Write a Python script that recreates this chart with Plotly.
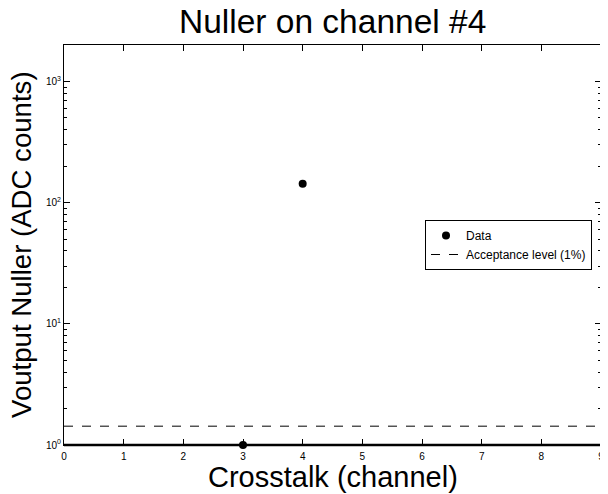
import plotly.graph_objects as go

# Data
channel = [3, 4]
voutput = [1, 143]
acceptance_x = [0, 9]
acceptance_level = [1.43, 1.43]

y_major = [1, 10, 100, 1000]
y_major_text = ["10<sup>0</sup>", "10<sup>1</sup>", "10<sup>2</sup>", "10<sup>3</sup>"]
y_minor = [m * d for d in (1, 10, 100, 1000) for m in range(2, 10) if m * d <= 2000]
x_ticks = list(range(0, 10))

FONT = "Liberation Sans, Arial, Helvetica, sans-serif"
OFF = 8  # page body margin
W, H = 608 - OFF, 494 - OFF
L, R, T, B = 64 - OFF, 7, 45 - OFF, 49
PW, PH = W - L - R, H - T - B
PTOP, PBOT, PLEFT = 45, 445, 64  # plot area in page pixels

fig = go.Figure()
fig.add_trace(go.Scatter(
    x=channel, y=voutput, mode="markers", name="Data",
    marker=dict(color="black", size=8, symbol="circle"),
    cliponaxis=False,
))
fig.add_trace(go.Scatter(
    x=acceptance_x, y=acceptance_level, mode="lines", name="Acceptance level (1%)",
    line=dict(color="black", width=1, dash="dash"),
))

fig.update_layout(
    width=W, height=H,
    margin=dict(l=L, r=R, t=T, b=B, autoexpand=False),
    paper_bgcolor="white", plot_bgcolor="white",
    font=dict(family=FONT, color="black"),
    showlegend=True,
    legend=dict(x=1 - 9 / PW, xanchor="right", y=0.5, yanchor="middle",
                bgcolor="white", bordercolor="black", borderwidth=1,
                font=dict(size=12, family=FONT),
                tracegroupgap=0, itemwidth=30),
    annotations=[
        dict(text="Nuller on channel #4", xref="paper", yref="paper",
             x=0.5, y=1 + (PTOP - 22) / PH, xanchor="center", yanchor="middle",
             showarrow=False, font=dict(size=33.5, family=FONT)),
        dict(text="Crosstalk (channel)", xref="paper", yref="paper",
             x=0.5, y=-(477 - PBOT) / PH, xanchor="center", yanchor="middle",
             showarrow=False, font=dict(size=29, family=FONT)),
        dict(text="Voutput Nuller (ADC counts)", xref="paper", yref="paper",
             x=-(PLEFT - 21) / PW, y=0.5, xanchor="center", yanchor="middle", textangle=-90,
             showarrow=False, font=dict(size=27.6, family=FONT)),
    ],
    shapes=[
        dict(type="line", xref="paper", yref="paper", x0=0, x1=1, y0=0, y1=0,
             line=dict(color="black", width=2.5)),
    ],
)

fig.update_xaxes(
    range=[0, 9], tickvals=x_ticks, ticktext=[str(v) for v in x_ticks],
    ticks="inside", ticklen=6, tickcolor="black", tickwidth=1,
    showline=True, linecolor="black", linewidth=1, mirror="ticks",
    showgrid=False, zeroline=False, automargin=False,
    tickfont=dict(size=10, family=FONT), ticklabelstandoff=2,
)
fig.update_yaxes(
    type="log", range=[0, 3.301],
    tickvals=y_major, ticktext=y_major_text,
    ticks="inside", ticklen=6, tickcolor="black", tickwidth=1,
    showline=True, linecolor="black", linewidth=1, mirror="ticks",
    showgrid=False, zeroline=False, automargin=False,
    tickfont=dict(size=10, family=FONT),
    minor=dict(tickvals=y_minor, ticks="inside", ticklen=3, tickcolor="black",
               tickwidth=1, showgrid=False),
)

fig.write_html("out.html")
